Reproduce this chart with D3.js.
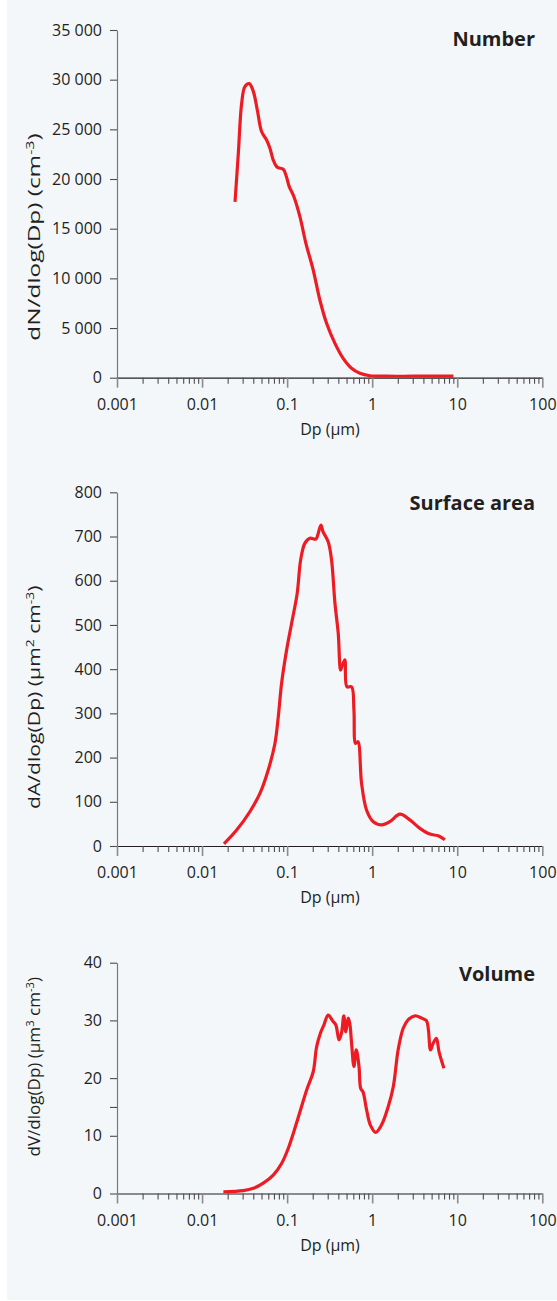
<!DOCTYPE html>
<html>
<head>
<meta charset="utf-8">
<script src="https://cdn.jsdelivr.net/npm/d3@7"></script>
<style>
  html, body { margin: 0; padding: 0; background: #ffffff; }
  svg { display: block; }
  text { font-family: "Open Sans", "Noto Sans", sans-serif; fill: #231f20; }
</style>
</head>
<body>
<svg id="chart" width="557" height="1301"></svg>
<script>
// ---------- DATA ----------
const xTickDecades = [0.001, 0.01, 0.1, 1, 10, 100];
const xTickLabels = ["0.001", "0.01", "0.1", "1", "10", "100"];

const numberDp  = [0.0244,0.0267,0.0292,0.0319,0.0359,0.0401,0.0446,0.0502,0.0574,0.0628,0.0687,0.0766,0.090,0.0982,0.1059,0.1202,0.1414,0.1663,0.2027,0.2427,0.291,0.365,0.456,0.572,0.717,0.94,1.5,3,6,9];
const numberVal = [17700,22600,27600,29300,29600,28800,26950,24760,23930,23090,21910,21180,20980,20230,19230,18220,16210,13530,10840,7820,5480,3460,1950,950,440,200,150,150,150,150];
const numberYTicks = [0,5000,10000,15000,20000,25000,30000,35000];

const areaDp  = [0.0181,0.0255,0.0366,0.0479,0.060,0.0719,0.0787,0.0861,0.0986,0.113,0.1315,0.1442,0.1619,0.1853,0.218,0.229,0.2496,0.264,0.304,0.333,0.365,0.399,0.425,0.441,0.477,0.505,0.573,0.61,0.638,0.68,0.75,0.86,1.03,1.29,1.61,2.12,2.77,3.64,4.77,5.97,7.15];
const areaVal = [5,36,78,119,172,232,292,368,443,504,572,647,685,696,694,703,726,711,688,647,549,481,398,406,421,360,360,308,232,236,142,81,55,48,55,72,59,40,27,23,14];
const areaYTicks = [0,100,200,300,400,500,600,700,800];

const volDp  = [0.0178,0.0305,0.0401,0.0524,0.0687,0.0861,0.103,0.129,0.1694,0.2027,0.2222,0.2467,0.2705,0.304,0.347,0.374,0.408,0.436,0.464,0.49,0.522,0.545,0.573,0.61,0.65,0.70,0.733,0.78,0.86,0.95,1.10,1.29,1.54,1.77,2.02,2.31,2.64,3.18,3.82,4.36,4.85,5.2,5.69,6.1,6.98];
const volVal = [0.3,0.5,0.9,1.8,3.2,5.2,7.8,12.2,17.9,21.1,25.4,27.8,29.2,30.9,29.8,29.2,26.6,27.8,30.8,28.0,30.4,29.5,26.0,22.0,24.9,22.0,18.2,17.6,14.5,11.9,10.6,11.9,15.0,18.5,24.9,28.6,30.1,30.8,30.4,29.9,24.9,26.0,26.9,24.6,21.7];
const volYTicks = [0,10,15,20,30,40];
const volYLabelled = [0,10,20,30,40];

const titles = ["Number", "Surface area", "Volume"];
const xTitle = "Dp (µm)";
// y titles as [text, superscript] pieces
const yTitles = [
  [["dN/dlog(Dp) (cm", false], ["-3", true], [")", false]],
  [["dA/dlog(Dp) (µm", false], ["2", true], [" cm", false], ["-3", true], [")", false]],
  [["dV/dlog(Dp) (µm", false], ["3", true], [" cm", false], ["-3", true], [")", false]]
];

// ---------- LAYOUT ----------
const svg = d3.select("#chart");
svg.append("rect").attr("x", 7).attr("y", 0).attr("width", 550).attr("height", 1300).attr("fill", "#f4f7fa");

const xLeft = 117, xRight = 542.3;
const panels = [
  { dp: numberDp, val: numberVal, max: 35000, top: 30,    bottom: 377.7, ticks: numberYTicks, labelled: numberYTicks, titleY: 46,  yLabelLen: 208 },
  { dp: areaDp,   val: areaVal,   max: 800,   top: 492.3, bottom: 846,   ticks: areaYTicks,   labelled: areaYTicks,   titleY: 510, yLabelLen: 224 },
  { dp: volDp,    val: volVal,    max: 40,    top: 962.7, bottom: 1193.5, ticks: volYTicks,   labelled: volYLabelled, titleY: 981, yLabelLen: 180 }
];

const fmt = d3.formatLocale({ decimal: ".", thousands: " ", grouping: [3], currency: ["", ""] }).format(",");

const minorTicks = [];
for (let e = -3; e < 2; e++) for (let m = 1; m <= 9; m++) minorTicks.push(m * Math.pow(10, e));
minorTicks.push(100);

const tickFont = "16px";

panels.forEach((p, i) => {
  const x = d3.scaleLog().domain([0.001, 100]).range([xLeft, xRight]);
  const y = d3.scaleLinear().domain([0, p.max]).range([p.bottom, p.top]);
  const g = svg.append("g");

  // y axis
  const yAxis = d3.axisLeft(y).tickValues(p.ticks).tickSize(7).tickSizeOuter(0)
    .tickFormat(d => p.labelled.includes(d) ? fmt(d) : "");
  const gy = g.append("g").attr("transform", `translate(${xLeft},0)`).call(yAxis);
  gy.select(".domain").attr("stroke", "#77787b").attr("stroke-width", 1.2);
  gy.selectAll(".tick line").attr("stroke", "#4d4d4f").attr("stroke-width", 1.1);
  gy.selectAll(".tick text").attr("x", -15).attr("font-size", tickFont).attr("fill", "#231f20")
    .style("font-family", '"Open Sans", sans-serif');

  // x axis
  const xAxis = d3.axisBottom(x).tickValues(minorTicks).tickSize(6).tickSizeOuter(0)
    .tickFormat(d => { const k = xTickDecades.findIndex(v => Math.abs(v - d) / d < 1e-6); return k >= 0 ? xTickLabels[k] : ""; });
  const gx = g.append("g").attr("transform", `translate(0,${p.bottom})`).call(xAxis);
  gx.select(".domain").attr("stroke", "#231f20").attr("stroke-width", 1.2);
  gx.selectAll(".tick line").attr("stroke", "#4d4d4f").attr("stroke-width", 1.1)
    .filter(d => xTickDecades.some(v => Math.abs(v - d) / d < 1e-6))
    .attr("y2", 10).attr("stroke", "#8a8b8d").attr("stroke-width", 1.6);
  gx.selectAll(".tick text").attr("y", 0).attr("dy", 0).attr("transform", "translate(0,32)")
    .attr("font-size", tickFont).attr("fill", "#231f20").style("font-family", '"Open Sans", sans-serif');

  // curve
  const line = d3.line().x(d => x(d[0])).y(d => y(d[1])).curve(d3.curveCatmullRom.alpha(0.5));
  g.append("path").datum(p.dp.map((d, k) => [d, p.val[k]]))
    .attr("d", line).attr("fill", "none").attr("stroke", "#ed1c24").attr("stroke-width", 3.2)
    .attr("stroke-linejoin", "round").attr("stroke-linecap", "butt");

  // title
  g.append("text").attr("x", 535).attr("y", p.titleY).attr("text-anchor", "end")
    .attr("font-size", "20px").attr("font-weight", "bold").text(titles[i]);

  // x title
  g.append("text").attr("x", 330).attr("y", p.bottom + 57).attr("text-anchor", "middle")
    .attr("font-size", tickFont).text(xTitle);

  // y title (stretched along its length to the reference's span)
  const yg = g.append("g").attr("transform", `translate(40,${p.bottom - 37}) rotate(-90)`);
  const yt = yg.append("text").attr("text-anchor", "start").attr("font-size", tickFont);
  let prevSup = false;
  yTitles[i].forEach(([txt, sup]) => {
    const t = yt.append("tspan").text(txt);
    if (sup) { t.attr("font-size", "10.5px").attr("dy", -6); }
    else if (prevSup) { t.attr("dy", 6); }
    prevSup = sup;
  });
  const natural = yt.node().getBBox().width;
  if (natural > 0) yt.attr("transform", `scale(${p.yLabelLen / natural},1)`);
});
</script>
</body>
</html>
